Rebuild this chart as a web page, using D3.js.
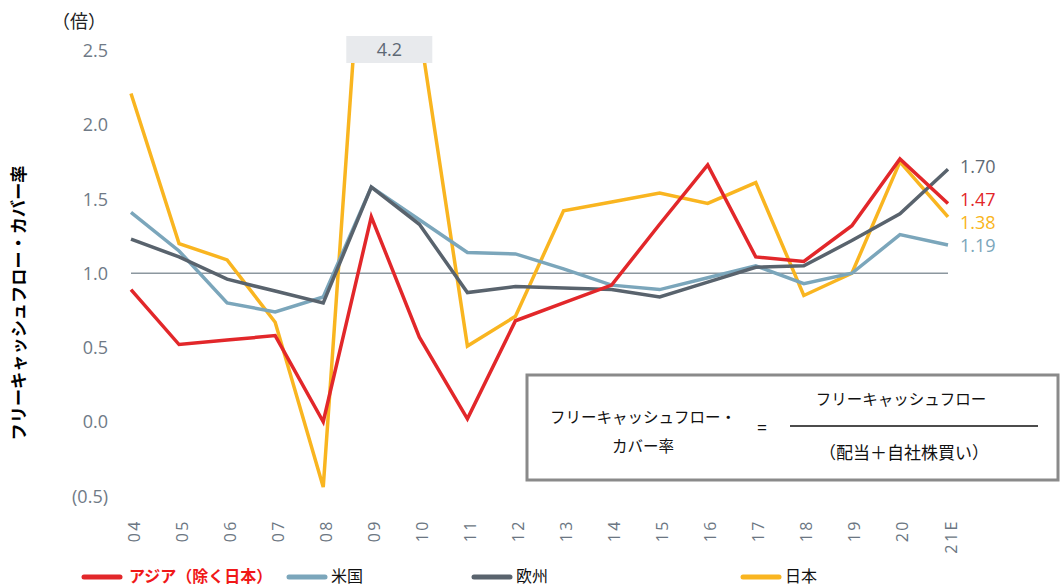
<!DOCTYPE html>
<html>
<head>
<meta charset="utf-8">
<script src="https://cdn.jsdelivr.net/npm/d3@7"></script>
<style>
  html, body { margin: 0; padding: 0; background: #fff; }
  svg { display: block; }
  .jp { font-family: "Noto Sans CJK JP", "Noto Sans", sans-serif; }
  .num { font-family: "Open Sans", "Noto Sans", sans-serif; }
</style>
</head>
<body>
<svg id="chart" width="1063" height="587"></svg>
<script>
// ---- data ----
const categories = ["04","05","06","07","08","09","10","11","12","13","14","15","16","17","18","19","20","21E"];
const asia   = [0.89, 0.52, 0.55, 0.58, 0.00, 1.38, 0.57, 0.02, 0.68, 0.80, 0.92, 1.33, 1.73, 1.11, 1.08, 1.32, 1.77, 1.47];
const us     = [1.41, 1.15, 0.80, 0.74, 0.84, 1.58, 1.36, 1.14, 1.13, 1.03, 0.92, 0.89, 0.97, 1.05, 0.93, 1.00, 1.26, 1.19];
const europe = [1.23, 1.11, 0.96, 0.88, 0.80, 1.58, 1.33, 0.87, 0.91, 0.90, 0.89, 0.84, 0.94, 1.04, 1.05, 1.22, 1.40, 1.70];
const japan  = [2.21, 1.20, 1.09, 0.67, -0.44, 4.20, 2.65, 0.51, 0.71, 1.42, 1.48, 1.54, 1.47, 1.61, 0.85, 1.00, 1.75, 1.38];
const yTickValues = [-0.5, 0, 0.5, 1.0, 1.5, 2.0, 2.5];
const yTickLabels = ["(0.5)", "0.0", "0.5", "1.0", "1.5", "2.0", "2.5"];
const seriesNames = ["アジア（除く日本）", "米国", "欧州", "日本"];
const offChartLabel = "4.2";
const yUnit = "（倍）";
const yTitle = "フリーキャッシュフロー・カバー率";

// ---- layout / style ----
const svg = d3.select("#chart");
const colors = { asia: "#e2272a", us: "#7ba6bb", europe: "#59636d", japan: "#f9b520" };
const x = d3.scalePoint().domain(categories).range([131, 948]);
const y = d3.scaleLinear().domain([-0.5, 2.5]).range([496, 50.5]);

// y tick labels
const yAxis = d3.axisLeft(y).tickValues(yTickValues)
  .tickFormat((d, i) => yTickLabels[i]).tickSize(0).tickPadding(0);
const gy = svg.append("g").attr("transform", "translate(108,0)").call(yAxis);
gy.select(".domain").remove();
gy.selectAll("text").attr("class", "num").attr("font-size", 18)
  .attr("fill", "#6f7a86").attr("dy", "0.34em");

// x tick labels (rotated)
const xAxis = d3.axisBottom(x).tickSize(0).tickPadding(0);
const gx = svg.append("g").attr("transform", "translate(0,519)").call(xAxis);
gx.select(".domain").remove();
gx.selectAll("text")
  .attr("class", "num").attr("font-size", 16).attr("fill", "#6b7682")
  .attr("letter-spacing", "2.5px")
  .attr("text-anchor", "end").attr("dy", null).attr("y", 0)
  .attr("transform", "translate(8,0) rotate(-90)");

// reference line at 1.0
svg.append("line")
  .attr("x1", x(categories[0])).attr("x2", x(categories[categories.length - 1]))
  .attr("y1", y(1)).attr("y2", y(1))
  .attr("stroke", "#8c979f").attr("stroke-width", 1.5);

// clip
svg.append("clipPath").attr("id", "plotClip").append("rect")
  .attr("x", 100).attr("y", 36).attr("width", 900).attr("height", 470);

const line = d3.line().x((d, i) => x(categories[i])).y(d => y(d));
const series = [
  { key: "japan", values: japan },
  { key: "us", values: us },
  { key: "europe", values: europe },
  { key: "asia", values: asia }
];
const gLines = svg.append("g").attr("clip-path", "url(#plotClip)");
gLines.selectAll("path").data(series).join("path")
  .attr("d", d => line(d.values))
  .attr("fill", "none")
  .attr("stroke", d => colors[d.key])
  .attr("stroke-width", 3.5)
  .attr("stroke-linejoin", "miter");

// off-chart label box for 09 Japan
const i09 = categories.indexOf("09");
const boxCx = x(categories[i09]) + 18;
svg.append("rect").attr("x", boxCx - 43).attr("y", 36).attr("width", 86).attr("height", 27)
  .attr("fill", "#e8eaed");
svg.append("text").attr("class", "num").attr("x", boxCx).attr("y", 50)
  .attr("dy", "0.35em").attr("text-anchor", "middle").attr("font-size", 18)
  .attr("fill", "#5d6874").text(offChartLabel);

// end labels
const endLabels = [
  { key: "europe", values: europe, nudge: -3 },
  { key: "asia", values: asia, nudge: -4 },
  { key: "japan", values: japan, nudge: 6 },
  { key: "us", values: us, nudge: 1 }
];
const last = categories.length - 1;
svg.selectAll("text.endlab").data(endLabels).join("text")
  .attr("class", "num endlab")
  .attr("x", x(categories[last]) + 12)
  .attr("y", d => y(d.values[last]) + d.nudge)
  .attr("dy", "0.35em").attr("font-size", 18)
  .attr("fill", d => d.key === "europe" ? "#5f6a75" : colors[d.key])
  .text(d => d.values[last].toFixed(2));

// unit label and y title
svg.append("text").attr("class", "jp").attr("x", 52).attr("y", 22).attr("dy", "0.35em")
  .attr("font-size", 18).attr("fill", "#222").text(yUnit);
svg.append("text").attr("class", "jp")
  .attr("transform", "translate(19,303) rotate(-90)")
  .attr("text-anchor", "middle").attr("dy", "0.35em")
  .attr("font-size", 17.2).attr("font-weight", "bold").attr("fill", "#000").text(yTitle);

// formula box
const fb = svg.append("g").attr("class", "jp");
fb.append("rect").attr("x", 527).attr("y", 375).attr("width", 531).attr("height", 105)
  .attr("fill", "#fff").attr("stroke", "#8a8a8a").attr("stroke-width", 3);
fb.append("text").attr("x", 643).attr("y", 418).attr("dy", "0.35em").attr("text-anchor", "middle")
  .attr("font-size", 15.5).attr("fill", "#111").text("フリーキャッシュフロー・");
fb.append("text").attr("x", 643).attr("y", 447).attr("dy", "0.35em").attr("text-anchor", "middle")
  .attr("font-size", 15.5).attr("fill", "#111").text("カバー率");
fb.append("text").attr("x", 762).attr("y", 428).attr("dy", "0.35em").attr("text-anchor", "middle")
  .attr("font-size", 17).attr("fill", "#111").text("=");
fb.append("text").attr("x", 901).attr("y", 400).attr("dy", "0.35em").attr("text-anchor", "middle")
  .attr("font-size", 15.5).attr("fill", "#111").text("フリーキャッシュフロー");
fb.append("line").attr("x1", 790).attr("x2", 1038).attr("y1", 426).attr("y2", 426)
  .attr("stroke", "#111").attr("stroke-width", 1.5);
fb.append("text").attr("x", 904).attr("y", 453).attr("dy", "0.35em").attr("text-anchor", "middle")
  .attr("font-size", 17).attr("fill", "#111").text("（配当＋自社株買い）");

// legend
const legendItems = [
  { key: "asia", name: seriesNames[0], x: 84 },
  { key: "us", name: seriesNames[1], x: 289 },
  { key: "europe", name: seriesNames[2], x: 474 },
  { key: "japan", name: seriesNames[3], x: 743 }
];
const lg = svg.append("g").attr("transform", "translate(0,576)");
const li = lg.selectAll("g").data(legendItems).join("g")
  .attr("transform", d => `translate(${d.x},0)`);
li.append("line").attr("x1", 0).attr("x2", 36).attr("y1", 1).attr("y2", 1)
  .attr("stroke", d => colors[d.key]).attr("stroke-width", 5).attr("stroke-linecap", "round");
li.append("text").attr("class", "jp").attr("x", d => d.key === "asia" ? 45 : 42)
  .attr("dy", "0.35em").attr("font-size", 16)
  .attr("font-weight", d => d.key === "asia" ? "bold" : "normal")
  .attr("fill", d => d.key === "asia" ? "#f01818" : "#111")
  .text(d => d.name);
</script>
</body>
</html>
